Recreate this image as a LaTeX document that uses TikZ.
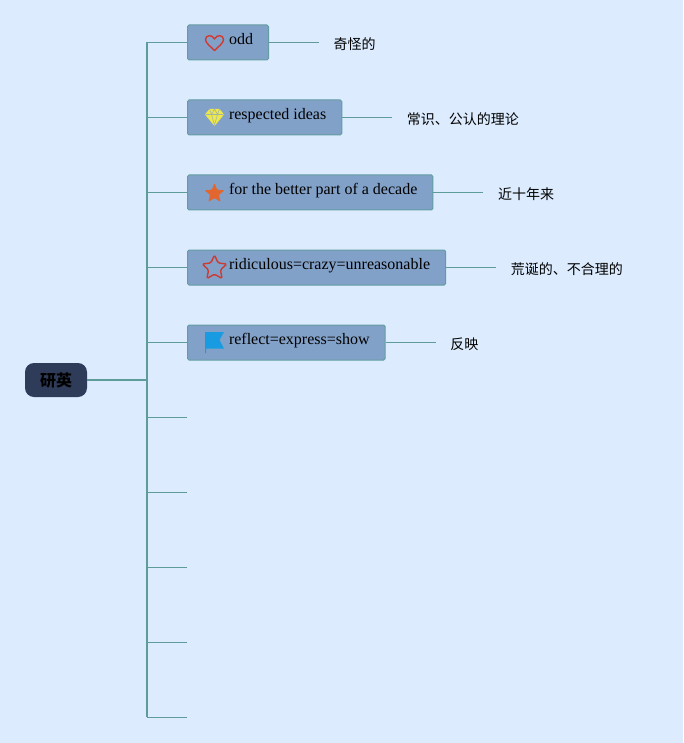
\documentclass[tikz,border=0pt]{standalone}
\usepackage{fontspec}
\setmainfont{Liberation Serif}
\newfontfamily\cjk{Noto Sans CJK SC}
\usetikzlibrary{calc,positioning,shapes.geometric}
\definecolor{PageBlue}{HTML}{DCECFE}
\definecolor{RootBlue}{HTML}{2F3C59}
\definecolor{TopicBlue}{HTML}{82A1C8}
\definecolor{LinkTeal}{HTML}{5E9C9A}
\definecolor{HeartRed}{HTML}{CF3A32}
\definecolor{GemYellow}{HTML}{EFE84A}
\definecolor{StarOrange}{HTML}{E2662F}
\definecolor{FlagBlue}{HTML}{189BE0}
\newcommand{\Row}{75}
\tikzset{
  Root/.style={rounded corners=9pt, fill=RootBlue, inner sep=0pt,
    minimum width=62pt, minimum height=34pt, font=\cjk\bfseries\fontsize{16}{16}\selectfont},
  Topic/.style={anchor=west, rounded corners=1.5pt, draw=LinkTeal!85!TopicBlue, line width=1pt,
    fill=TopicBlue, inner sep=0pt, minimum height=35pt, text height=11pt, text depth=7pt,
    font=\fontsize{16}{16}\selectfont},
  Note/.style={inner sep=0pt, yshift=-1.5pt, font=\cjk\fontsize{14}{14}\selectfont},
  Link/.style={draw=LinkTeal, line width=0.8pt},
}
\newcommand{\Pad}[1]{\hspace*{41.5pt}#1\hspace*{15.5pt}}
\begin{document}
\begin{tikzpicture}[x=1pt,y=-1pt]
\fill[PageBlue] (0,0) rectangle (683,743);
\useasboundingbox (0,0) rectangle (683,743);
% root and trunk
\node [Root] (root) at (56,380) {研英};
\coordinate (trunk) at (147,380);
\coordinate (top) at (147,42);
\coordinate (bottom) at (147,717);
\draw [Link, line width=1.5pt] (top) -- (bottom);
\draw [Link, line width=1.5pt] (root.east) -- (trunk);
% topics
\node [Topic] (odd) at (187,42.5) {\Pad{odd}};
\node [Topic] (ideas) at (187,117.5) {\Pad{respected ideas}};
\node [Topic] (decade) at (187,192.5) {\Pad{for the better part of a decade}};
\node [Topic] (crazy) at (187,267.5) {\Pad{ridiculous=crazy=unreasonable}};
\node [Topic] (show) at (187,342.5) {\Pad{reflect=express=show}};
% notes
\foreach \name/\note in {odd/奇怪的, ideas/常识、公认的理论, decade/近十年来,
    crazy/荒诞的、不合理的, show/反映}{
  \coordinate [right=50pt of \name.east] (\name end);
  \node [Note, anchor=west, right=14.5pt of \name end] (\name note) {\note};
  \draw [Link] (\name.east) -- (\name end);
  \draw [Link] (\name.west) -- (\name.west -| trunk);
}
% empty branches
\foreach \i in {5,...,9}{
  \coordinate (empty\i) at (187,42+\i*\Row);
  \draw [Link] (empty\i) -- (empty\i -| trunk);
}
% icons
\draw [draw=HeartRed, line width=1.4pt, line join=round, shift={(214.5,42.5)}]
  (0,8) .. controls (-4,4) and (-9,0.5) .. (-9,-3)
  .. controls (-9,-7.5) and (-2.5,-8.5) .. (0,-3.5)
  .. controls (2.5,-8.5) and (9,-7.5) .. (9,-3)
  .. controls (9,0.5) and (4,4) .. (0,8) -- cycle;
\begin{scope}[shift={(214.5,117)}]
\fill [GemYellow] (-5,-8) -- (5,-8) -- (9.5,-2.5) -- (0,9) -- (-9.5,-2.5) -- cycle;
\draw [TopicBlue!70!GemYellow, line width=0.6pt] (-9,-2.5) -- (9,-2.5) (-5,-8) -- (-3,-2.5) -- (0,8) -- (3,-2.5) -- (5,-8) (0,-8) -- (-3,-2.5) (0,-8) -- (3,-2.5);
\end{scope}
\node [star, star points=5, star point ratio=2.3, fill=StarOrange, inner sep=0pt,
  minimum size=21pt, rounded corners=1pt] (heavy) at (214.5,193.5) {};
\node [star, star points=5, star point ratio=2.1, draw=HeartRed, line width=1.4pt, inner sep=0pt,
  minimum size=26pt, rounded corners=1.5pt] (hollow) at (214.5,268) {};
\fill [FlagBlue] (205,332) -- (224,332) -- (219.5,340) -- (224,348.5) -- (206,348.5)
  -- (206,353) -- (205,353) -- cycle;
\end{tikzpicture}
\end{document}
